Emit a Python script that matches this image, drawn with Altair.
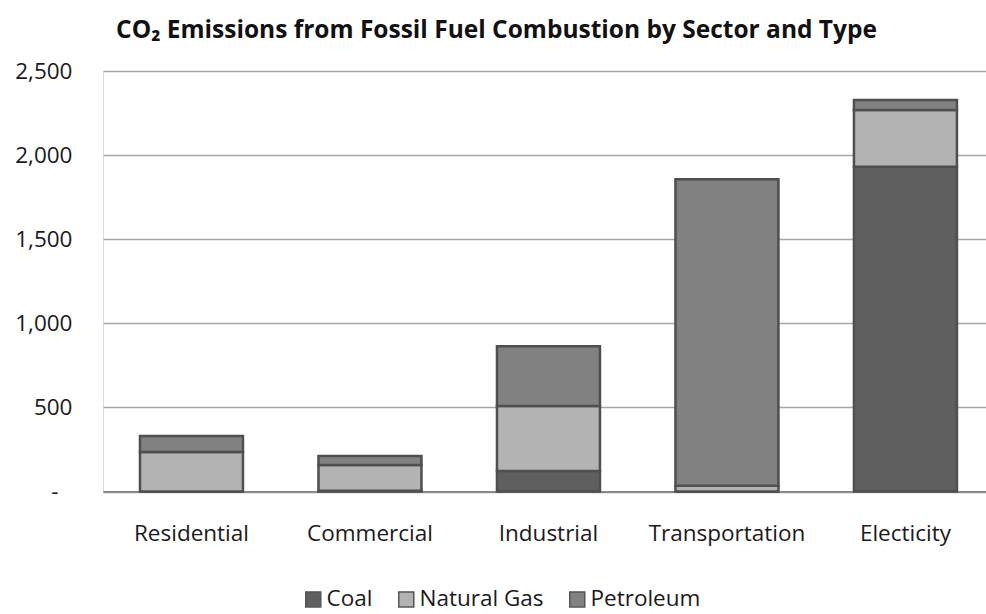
import altair as alt
import pandas as pd

# CO2 emissions (Tg CO2 Eq.) by end-use sector and fuel type
sectors = ["Residential", "Commercial", "Industrial", "Transportation", "Electicity"]
fuels = ["Coal", "Natural Gas", "Petroleum"]
coal = [0, 5, 122, 0, 1931]
natural_gas = [235, 153, 386, 34, 337]
petroleum = [95, 53, 355, 1822, 60]

rows = []
for i, s in enumerate(sectors):
    for k, (f, vals) in enumerate(zip(fuels, [coal, natural_gas, petroleum])):
        rows.append({"Sector": s, "Fuel": f, "Emissions": vals[i], "order": k})
df = pd.DataFrame(rows)

FONT = "Open Sans"
LABEL_SIZE = 22.5
fill_colors = ["#5f5f5f", "#b3b3b3", "#818181"]

bars = alt.Chart(df).mark_bar(stroke="#4f4f4f", strokeWidth=2.5).encode(
    x=alt.X(
        "Sector:N",
        sort=sectors,
        title=None,
        scale=alt.Scale(paddingInner=0.423, paddingOuter=0.185, align=0.56),
        axis=alt.Axis(
            labelAngle=0,
            labelFont=FONT,
            labelFontSize=LABEL_SIZE,
            labelColor="#1a1a1a",
            labelPadding=31,
            ticks=False,
            tickSize=0,
            domain=True,
            domainColor="#8a8a8a",
            domainWidth=2,
            grid=False,
        ),
    ),
    y=alt.Y(
        "Emissions:Q",
        stack="zero",
        title=None,
        scale=alt.Scale(domain=[0, 2500], nice=False),
        axis=alt.Axis(
            values=[0, 500, 1000, 1500, 2000, 2500],
            labelExpr="datum.value == 0 ? '-' : format(datum.value, ',')",
            labelFont=FONT,
            labelFontSize=LABEL_SIZE,
            labelColor="#1a1a1a",
            labelPadding={"condition": {"test": "datum.value === 0", "value": 45}, "value": 31},
            ticks=False,
            tickSize=0,
            domain=False,
            grid=True,
            gridColor="#a6a6a6",
            gridWidth=1.5,
        ),
    ),
    color=alt.Color(
        "Fuel:N",
        sort=fuels,
        scale=alt.Scale(domain=fuels, range=fill_colors),
        legend=alt.Legend(
            title=None,
            orient="none",
            direction="horizontal",
            columns=3,
            legendX=199,
            legendY=517,
            symbolType="square",
            symbolSize=225,
            symbolStrokeColor="#555555",
            symbolStrokeWidth=1.5,
            labelFont=FONT,
            labelFontSize=LABEL_SIZE,
            labelColor="#1a1a1a",
            labelOffset=2,
            columnPadding=22,
        ),
    ),
    order=alt.Order("order:Q", sort="ascending"),
)

chart = bars.properties(
    width=883,
    height=420.5,
    title=alt.TitleParams(
        text="CO\u2082 Emissions from Fossil Fuel Combustion by Sector and Type",
        font=FONT,
        fontSize=24.5,
        fontWeight="bold",
        color="#111111",
        anchor="middle",
        frame="group",
        dx=-48,
        offset=17,
    ),
    autosize=alt.AutoSizeParams(type="none"),
    padding={"left": 103, "top": 71, "right": 0, "bottom": 122.5},
).configure_view(stroke=None).configure(background="white")

chart.save("out.html", embed_options={"renderer": "svg", "actions": False})
